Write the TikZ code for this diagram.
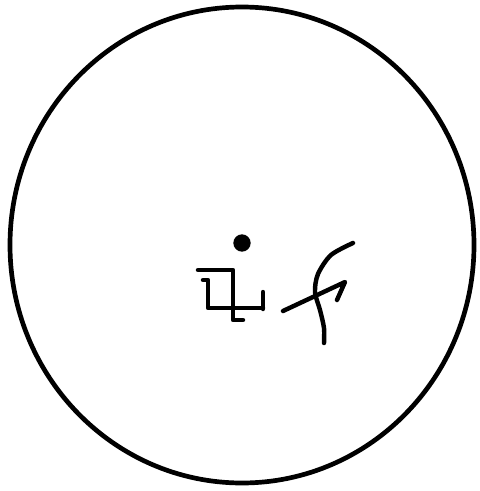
\documentclass[tikz,border=0pt]{standalone}
\usetikzlibrary{calc}
\definecolor{ink}{HTML}{000000}
\tikzset{
  rim/.style={draw=ink,line width=4pt},
  glyph/.style={draw=ink,line width=3.8pt,line cap=round,line join=round},
  dot/.style={circle,fill=ink,inner sep=0pt,minimum size=0.52cm},
}
\begin{document}
\begin{tikzpicture}[x=0.03cm,y=-0.03cm]
  % Page is 480 x 491 px; one unit is one pixel, y runs downwards.
  \useasboundingbox (0,0) rectangle (480,491);

  % Hand-drawn outer ring.
  \coordinate (centre) at (242,245);
  \draw[rim] (centre) ellipse [x radius=232, y radius=238];

  % Central point above the two signs.
  \node[dot] (point) at (242,243) {};

  % Left sign: bent cross.
  \draw[glyph] (198,270) -- (233,270) -- (233,320) -- (243,320);
  \draw[glyph] (203,280) -- (208,280) -- (208,308) -- (263,308);
  \draw[glyph] (263,292) -- (263,309);

  % Right sign: curved stem crossed by a hooked stroke.
  \draw[glyph] plot[smooth] coordinates {(353,243) (331,255) (318,274) (315,292) (320,310) (324,328) (324,343)};
  \draw[glyph] (283,311) -- (345,282) -- (337,300);
\end{tikzpicture}
\end{document}
